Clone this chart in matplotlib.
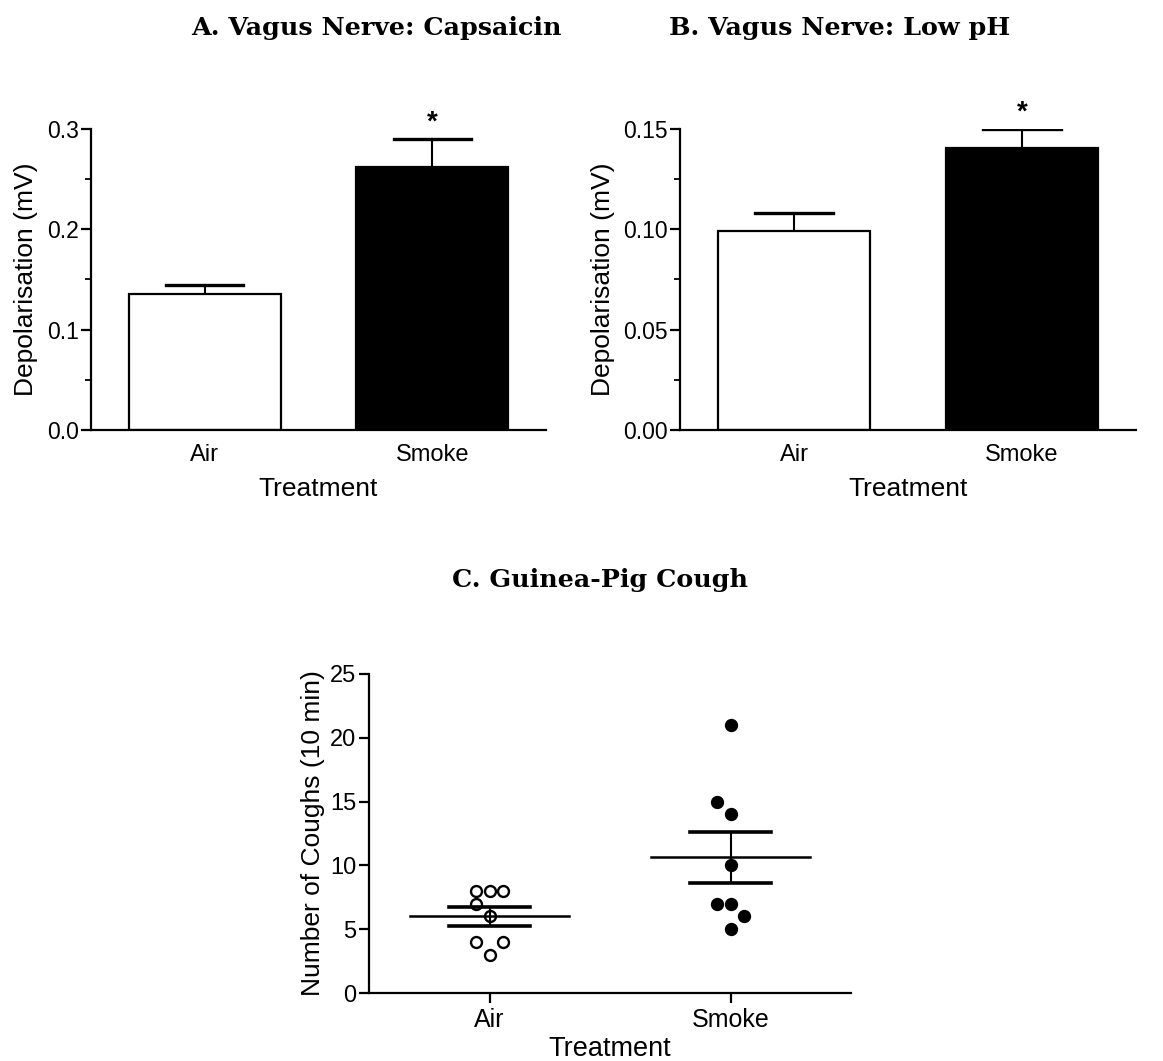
import numpy as np
import matplotlib
matplotlib.use("Agg")
import matplotlib.pyplot as plt

plt.rcParams['font.family'] = ['Liberation Sans', 'DejaVu Sans']

# data
groups = ['Air', 'Smoke']
capsaicin_mean = [0.136, 0.262]
capsaicin_sem = [0.009, 0.028]
lowph_mean = [0.0993, 0.1405]
lowph_sem = [0.0088, 0.0095]
cough_air = [8, 8, 8, 7, 6, 4, 4, 3]
cough_smoke = [21, 15, 14, 10, 7, 7, 6, 5]

# column-scatter spread (in marker widths)
air_spread = [-1, 0, 1, -1, 0, -1, 1, 0]
smoke_spread = [0, -1, 0, 0, -1, 0, 1, 0]

W, H = 1163, 1061
fig = plt.figure(figsize=(W / 100, H / 100), dpi=100)
title_font = dict(family=['DejaVu Serif'], fontweight='bold', fontsize=18.3)


def style_axes(ax, ytick=16.5, xtick=17):
    for s in ['top', 'right']:
        ax.spines[s].set_visible(False)
    for s in ['left', 'bottom']:
        ax.spines[s].set_linewidth(1.6)
    ax.tick_params(axis='y', width=1.6, length=7, labelsize=ytick, pad=2)
    ax.tick_params(axis='x', labelsize=xtick, length=0, pad=10)
    ax.tick_params(axis='y', which='minor', width=1.3, length=4)


def bar_panel(rect, means, sems, ylim, major, minor, fmt, title, title_x):
    ax = fig.add_axes(rect)
    x = np.arange(len(groups))
    ax.bar(x, means, width=0.67, color=['white', 'black'], edgecolor='black', linewidth=1.6, zorder=2)
    for xi, m, s in zip(x, means, sems):
        ax.plot([xi, xi], [m, m + s], color='black', lw=1.5, zorder=1)
        ax.plot([xi - 0.17, xi + 0.17], [m + s, m + s], color='black', lw=2.4, zorder=1)
    ax.text(x[1], means[1] + sems[1] + ylim[1] * 0.012, '*', ha='center', va='bottom',
            fontsize=20, fontweight='bold')
    ax.set_xlim(-0.5, 1.5)
    ax.set_ylim(*ylim)
    ax.set_yticks(major)
    ax.set_yticks(minor, minor=True)
    ax.set_yticklabels([fmt.format(v) for v in major])
    ax.set_xticks(x)
    ax.set_xticklabels(groups)
    ax.set_ylabel('Depolarisation (mV)', fontsize=19, labelpad=6)
    ax.set_xlabel('Treatment', fontsize=19, labelpad=8)
    style_axes(ax)
    fig.text(title_x, 1 - 35 / H, title, ha='center', va='baseline', **title_font)
    return ax


bar_panel([91 / W, 1 - 430 / H, 455 / W, 301 / H], capsaicin_mean, capsaicin_sem, (0, 0.3),
          [0, 0.1, 0.2, 0.3], [0.05, 0.15, 0.25], '{:.1f}',
          'A. Vagus Nerve: Capsaicin', 376 / W)
bar_panel([680 / W, 1 - 430 / H, 456 / W, 301 / H], lowph_mean, lowph_sem, (0, 0.15),
          [0, 0.05, 0.10, 0.15], [0.025, 0.075, 0.125], '{:.2f}',
          'B. Vagus Nerve: Low pH', 840 / W)

# panel C
ax = fig.add_axes([369 / W, 1 - 993 / H, 482 / W, 319 / H])
step = 0.057
for i, (vals, spread, fill) in enumerate([(cough_air, air_spread, 'white'),
                                          (cough_smoke, smoke_spread, 'black')]):
    xs = [i + s * step for s in spread]
    ax.scatter(xs, vals, s=62, facecolor=fill, edgecolor='black', linewidth=1.7, zorder=3)
    m = np.mean(vals)
    sem = np.std(vals, ddof=1) / np.sqrt(len(vals))
    ax.plot([i - 0.33, i + 0.33], [m, m], color='black', lw=1.8, zorder=4)
    ax.plot([i, i], [m - sem, m + sem], color='black', lw=1.5, zorder=4)
    for y in (m - sem, m + sem):
        ax.plot([i - 0.167, i + 0.167], [y, y], color='black', lw=2.6, zorder=4)
ax.set_xlim(-0.5, 1.5)
ax.set_ylim(0, 25)
ax.set_yticks([0, 5, 10, 15, 20, 25])
ax.set_xticks([0, 1])
ax.set_xticklabels(groups)
ax.set_ylabel('Number of Coughs (10 min)', fontsize=19, labelpad=4)
ax.set_xlabel('Treatment', fontsize=19.5, labelpad=3)
style_axes(ax, ytick=17, xtick=18)
ax.tick_params(axis='x', length=7, width=1.6, pad=4)
fig.text(600 / W, 1 - 587 / H, 'C. Guinea-Pig Cough', ha='center', va='baseline', **title_font)

fig.savefig('out.png', dpi=100, facecolor='white')
